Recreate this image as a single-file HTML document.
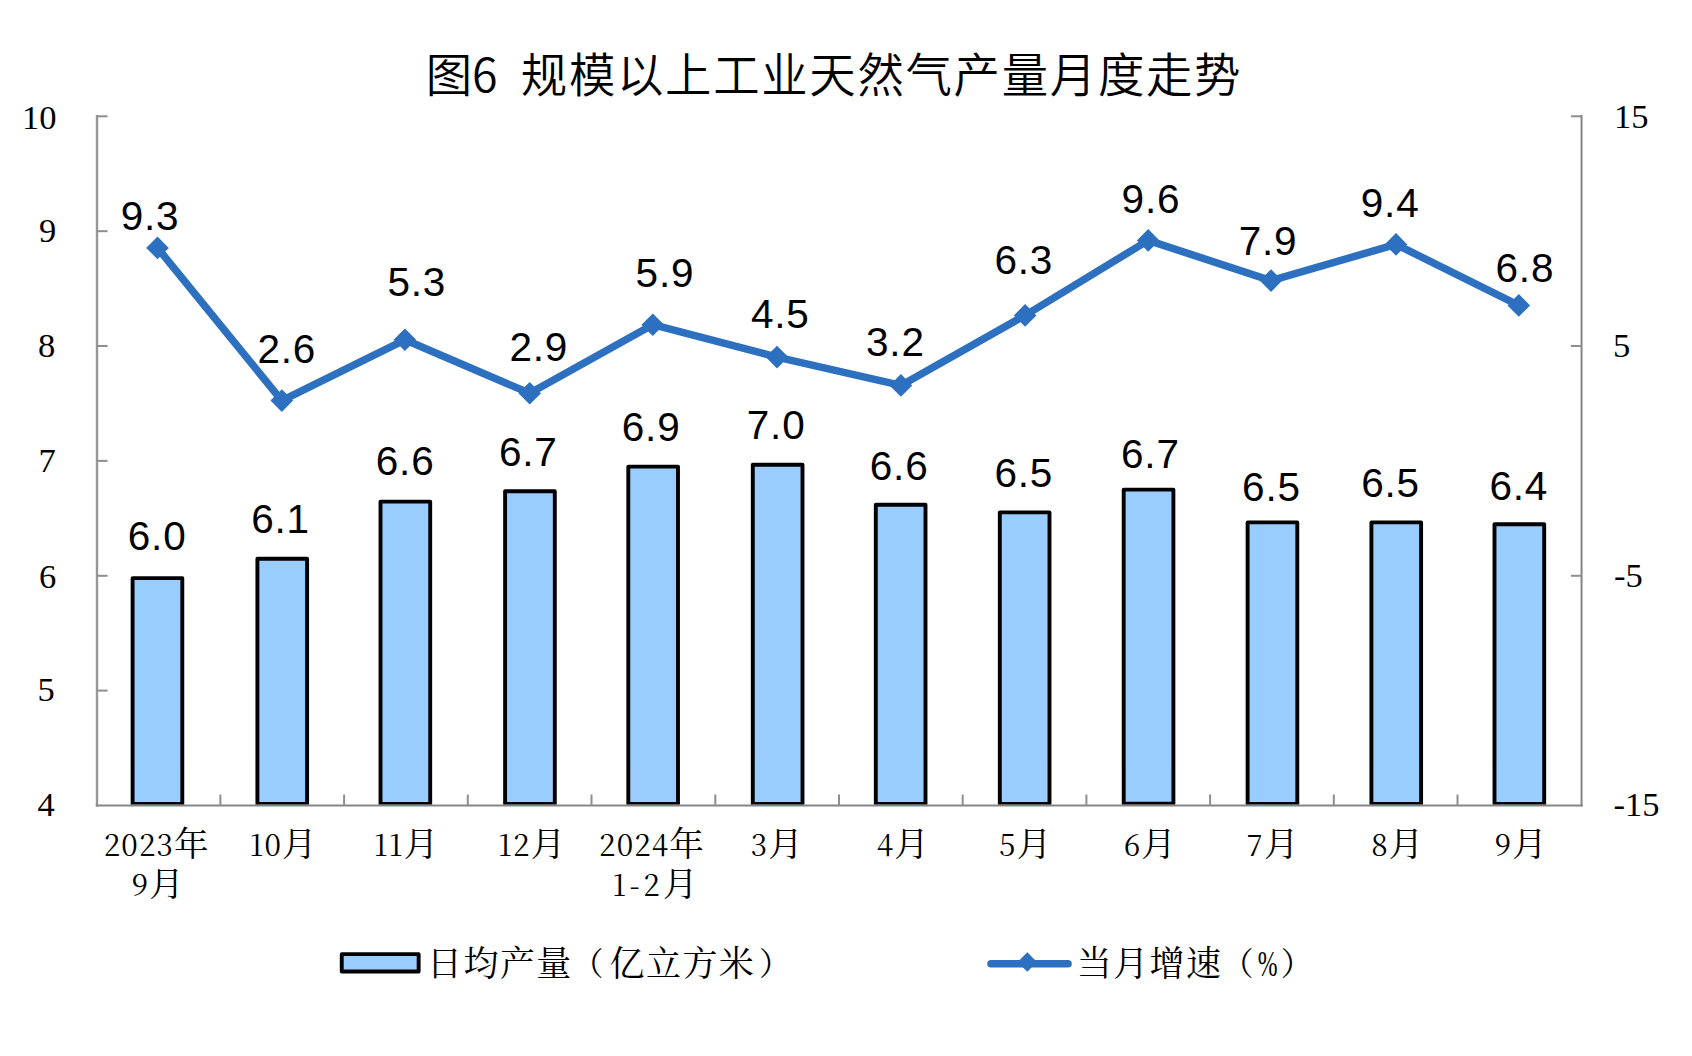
<!DOCTYPE html>
<html lang="zh-CN"><head><meta charset="utf-8"><title>图6 规模以上工业天然气产量月度走势</title>
<style>html,body{margin:0;padding:0;background:#fff}svg{display:block}.t{font-family:"Noto Sans CJK SC","Liberation Sans",sans-serif;font-weight:350;font-size:46.4px;fill:#000}.d{font-family:"Liberation Sans",sans-serif;font-size:40.5px;letter-spacing:0.8px;fill:#000}.a{font-family:"Liberation Serif",serif;font-size:34.5px;fill:#000}.c{font-family:"Liberation Serif","Noto Serif CJK SC",serif;font-size:34.6px;fill:#000}.c tspan{font-family:"Noto Serif CJK SC","Liberation Serif",serif;font-size:29.5px;letter-spacing:1.1px}.l{font-family:"Liberation Serif","Noto Serif CJK SC",serif;font-size:35px;letter-spacing:1.45px;fill:#000}.p{font-size:32px;letter-spacing:0}</style></head><body>
<svg width="1692" height="1056" viewBox="0 0 1692 1056">
<rect width="1692" height="1056" fill="#fff"/>
<defs><clipPath id="bc"><rect x="0" y="0" width="1692" height="804.5"/></clipPath></defs>
<text class="t" x="425.7" y="92">图6 <tspan x="520.8" letter-spacing="1.7">规模以上工业天然气产量月度走势</tspan></text>
<g fill="none" stroke-width="2">
<path d="M97.0 115.1 V806.5" stroke="#979797" stroke-width="2.4"/>
<path d="M1581.55 115.1 V806.5" stroke="#858585"/>
<path d="M95.8 805.5 H1582.55" stroke="#858585"/>
<g stroke="#8E8E8E">
<path d="M97.0 116.3 h10.6"/>
<path d="M97.0 231.2 h10.6"/>
<path d="M97.0 346.0 h10.6"/>
<path d="M97.0 460.9 h10.6"/>
<path d="M97.0 575.8 h10.6"/>
<path d="M97.0 690.6 h10.6"/>
<path d="M1581.55 116.3 h-10.6"/>
<path d="M1581.55 346.0 h-10.6"/>
<path d="M1581.55 575.8 h-10.6"/>
<path d="M220.4 805.5 v-11"/>
<path d="M344.1 805.5 v-11"/>
<path d="M467.8 805.5 v-11"/>
<path d="M591.5 805.5 v-11"/>
<path d="M715.3 805.5 v-11"/>
<path d="M839.0 805.5 v-11"/>
<path d="M962.7 805.5 v-11"/>
<path d="M1086.4 805.5 v-11"/>
<path d="M1210.1 805.5 v-11"/>
<path d="M1333.8 805.5 v-11"/>
<path d="M1457.5 805.5 v-11"/>
</g></g>
<g fill="#99CCFF" stroke="#000" stroke-width="3.9" stroke-linejoin="round" clip-path="url(#bc)">
<rect x="132.6" y="578.1" width="49.7" height="225.8"/>
<rect x="257.4" y="558.7" width="49.7" height="245.2"/>
<rect x="380.5" y="501.6" width="49.7" height="302.3"/>
<rect x="505.1" y="491.3" width="49.7" height="312.6"/>
<rect x="628.3" y="466.6" width="49.7" height="337.3"/>
<rect x="752.8" y="464.8" width="49.7" height="339.1"/>
<rect x="875.8" y="504.8" width="49.7" height="299.1"/>
<rect x="999.8" y="512.4" width="49.7" height="291.5"/>
<rect x="1123.7" y="489.6" width="49.7" height="314.2"/>
<rect x="1247.6" y="522.4" width="49.7" height="281.5"/>
<rect x="1371.4" y="522.4" width="49.7" height="281.5"/>
<rect x="1494.5" y="524.2" width="49.7" height="279.7"/>
</g>
<polyline points="157.5,247.9 281.8,400.6 404.9,339.8 529.7,393.3 652.8,324.7 777.0,357.1 900.9,385.4 1025.1,315.4 1148.2,240.4 1271.0,280.6 1396.0,244.4 1518.8,305.4" fill="none" stroke="#2D70BF" stroke-width="7.5" stroke-linejoin="round" stroke-linecap="round"/>
<g fill="#2D70BF">
<path d="M157.5 236.6 L168.8 247.9 L157.5 259.2 L146.2 247.9Z"/>
<path d="M281.8 389.3 L293.1 400.6 L281.8 411.9 L270.5 400.6Z"/>
<path d="M404.9 328.5 L416.2 339.8 L404.9 351.1 L393.6 339.8Z"/>
<path d="M529.7 382.0 L541.0 393.3 L529.7 404.6 L518.4 393.3Z"/>
<path d="M652.8 313.4 L664.1 324.7 L652.8 336.0 L641.5 324.7Z"/>
<path d="M777.0 345.8 L788.3 357.1 L777.0 368.4 L765.7 357.1Z"/>
<path d="M900.9 374.1 L912.2 385.4 L900.9 396.7 L889.6 385.4Z"/>
<path d="M1025.1 304.1 L1036.4 315.4 L1025.1 326.7 L1013.8 315.4Z"/>
<path d="M1148.2 229.1 L1159.5 240.4 L1148.2 251.7 L1136.9 240.4Z"/>
<path d="M1271.0 269.3 L1282.3 280.6 L1271.0 291.9 L1259.7 280.6Z"/>
<path d="M1396.0 233.1 L1407.3 244.4 L1396.0 255.7 L1384.7 244.4Z"/>
<path d="M1518.8 294.1 L1530.1 305.4 L1518.8 316.7 L1507.5 305.4Z"/>
</g>
<g class="d">
<text x="127.8" y="549.9">6.0</text>
<text x="251.2" y="533.4">6.1</text>
<text x="375.8" y="475.4">6.6</text>
<text x="498.9" y="466.1">6.7</text>
<text x="621.8" y="440.8">6.9</text>
<text x="746.8" y="439.1">7.0</text>
<text x="869.8" y="479.5">6.6</text>
<text x="994.4" y="487.4">6.5</text>
<text x="1121.0" y="468.4">6.7</text>
<text x="1242.1" y="501.1">6.5</text>
<text x="1361.2" y="496.8">6.5</text>
<text x="1489.4" y="499.7">6.4</text>
<text x="120.7" y="229.6">9.3</text>
<text x="257.4" y="363.3">2.6</text>
<text x="387.4" y="296.3">5.3</text>
<text x="509.4" y="361.3">2.9</text>
<text x="635.6" y="287.4">5.9</text>
<text x="750.9" y="328.1">4.5</text>
<text x="866.0" y="356.2">3.2</text>
<text x="994.4" y="274.1">6.3</text>
<text x="1121.6" y="213.0">9.6</text>
<text x="1238.7" y="255.2">7.9</text>
<text x="1360.8" y="216.6">9.4</text>
<text x="1495.5" y="282.1">6.8</text>
</g>
<g class="a">
<text x="22.0" y="129.0">10</text>
<text x="39.0" y="242.0">9</text>
<text x="38.1" y="357.3">8</text>
<text x="38.4" y="472.0">7</text>
<text x="39.0" y="587.5">6</text>
<text x="37.5" y="700.5">5</text>
<text x="37.4" y="815.5">4</text>
<text x="1613.9" y="128.4">15</text>
<text x="1613.1" y="356.9">5</text>
<text x="1614.1" y="587.0">-5</text>
<text x="1613.5" y="815.5">-15</text>
</g>
<g class="c">
<text x="103.8" y="855.6"><tspan>2023</tspan>年</text>
<text x="131.6" y="896.0"><tspan>9</tspan>月</text>
<text x="249.5" y="855.6"><tspan>10</tspan>月</text>
<text x="373.8" y="855.6"><tspan>11</tspan>月</text>
<text x="498.1" y="855.6"><tspan>12</tspan>月</text>
<text x="599.1" y="855.6"><tspan>2024</tspan>年</text>
<text x="612.3" y="896.0"><tspan style="letter-spacing:3.4px">1-2</tspan>月</text>
<text x="750.8" y="855.6"><tspan>3</tspan>月</text>
<text x="876.7" y="855.6"><tspan>4</tspan>月</text>
<text x="999.1" y="855.6"><tspan>5</tspan>月</text>
<text x="1123.7" y="855.6"><tspan>6</tspan>月</text>
<text x="1246.6" y="855.6"><tspan>7</tspan>月</text>
<text x="1371.3" y="855.6"><tspan>8</tspan>月</text>
<text x="1494.5" y="855.6"><tspan>9</tspan>月</text>
</g>
<rect x="341.75" y="954.15" width="76.9" height="17.3" fill="#99CCFF" stroke="#000" stroke-width="3.9" stroke-linejoin="round"/>
<text class="l" x="427" y="976">日均产量<tspan class="p" x="571.6" y="974.5">（</tspan><tspan x="609.5" y="976">亿立方米</tspan><tspan class="p" x="758.9" y="974.5">）</tspan></text>
<path d="M991 963.7 H1068" stroke="#2D70BF" stroke-width="7.6" stroke-linecap="round"/>
<path d="M1027.3 952.3 L1037 962 L1027.3 971.7 L1017.6 962Z" fill="#2D70BF"/>
<text class="l" x="1076.7" y="976">当月增速<tspan class="p" x="1221.4" y="974.5">（</tspan><tspan x="1257.7" y="976" textLength="19.8" lengthAdjust="spacingAndGlyphs" style="letter-spacing:0">%</tspan><tspan class="p" x="1280.7" y="974.5">）</tspan></text>
</svg></body></html>
